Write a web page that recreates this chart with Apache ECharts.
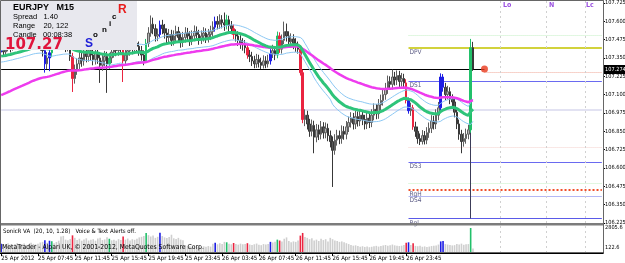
<!DOCTYPE html>
<html>
<head>
<meta charset="utf-8">
<script src="https://cdn.jsdelivr.net/npm/echarts@6/dist/echarts.min.js"></script>
<style>
html, body { margin: 0; padding: 0; background: #fff; }
#main { width: 625px; height: 263px; }
</style>
</head>
<body>
<div id="main"></div>
<script>
// EURJPY M15, 25 Apr 2012 03:45 .. 27 Apr 2012 07:00 (206 bars)
var firstOpen = 107.390;
var closes = [
107.405,107.392,107.418,107.436,107.421,107.447,107.462,107.441,107.458,107.474,
107.486,107.468,107.492,107.509,107.488,107.472,107.455,107.440,107.400,107.310,
107.350,107.385,107.440,107.460,107.470,107.450,107.490,107.460,107.430,107.450,
107.360,107.210,107.270,107.310,107.350,107.330,107.380,107.360,107.400,107.370,
107.340,107.380,107.350,107.300,107.330,107.360,107.310,107.350,107.390,107.420,
107.400,107.440,107.410,107.330,107.370,107.400,107.430,107.410,107.450,107.430,
107.400,107.370,107.330,107.450,107.520,107.580,107.550,107.500,107.510,107.575,
107.550,107.520,107.490,107.510,107.470,107.500,107.530,107.490,107.460,107.490,
107.520,107.500,107.470,107.500,107.530,107.510,107.480,107.500,107.520,107.490,
107.510,107.530,107.560,107.600,107.580,107.610,107.590,107.575,107.610,107.570,
107.550,107.510,107.500,107.470,107.450,107.440,107.420,107.370,107.360,107.330,
107.310,107.340,107.320,107.300,107.330,107.310,107.330,107.380,107.400,107.370,
107.500,107.410,107.470,107.530,107.500,107.460,107.480,107.450,107.430,107.410,
107.250,106.930,106.960,106.900,106.850,106.890,106.810,106.860,106.830,106.880,
106.840,106.870,106.820,106.780,106.720,106.790,106.820,106.800,106.850,106.830,
106.880,106.910,106.940,106.900,106.950,106.920,106.960,106.930,106.900,106.940,
106.910,106.960,107.000,106.970,107.030,107.060,107.100,107.140,107.190,107.170,
107.220,107.200,107.230,107.190,107.210,107.180,107.060,106.990,107.010,106.880,
106.850,106.800,106.780,106.820,106.790,106.840,106.870,106.920,106.900,106.960,
107.010,107.220,107.150,107.100,107.120,107.070,107.050,106.980,106.900,106.830,
106.780,106.800,106.830,106.860,107.420,107.274
];
var highs = [
107.440,107.438,107.450,107.475,107.468,107.482,107.505,107.490,107.498,107.515,
107.528,107.520,107.535,107.552,107.545,107.520,107.505,107.490,107.475,107.430,
107.390,107.420,107.475,107.500,107.515,107.505,107.530,107.525,107.495,107.488,
107.480,107.385,107.305,107.350,107.392,107.385,107.420,107.415,107.440,107.435,
107.405,107.420,107.412,107.385,107.370,107.398,107.392,107.385,107.428,107.460,
107.455,107.478,107.472,107.438,107.408,107.440,107.470,107.462,107.490,107.485,
107.462,107.432,107.402,107.480,107.560,107.640,107.625,107.580,107.550,107.605,
107.610,107.582,107.552,107.548,107.542,107.538,107.570,107.562,107.522,107.528,
107.560,107.555,107.532,107.538,107.572,107.565,107.542,107.538,107.560,107.552,
107.548,107.570,107.600,107.632,107.635,107.648,107.642,107.660,107.645,107.638,
107.602,107.578,107.545,107.532,107.505,107.485,107.472,107.445,107.405,107.392,
107.365,107.378,107.372,107.352,107.368,107.362,107.372,107.410,107.440,107.432,
107.530,107.525,107.510,107.598,107.585,107.532,107.518,107.512,107.485,107.462,
107.435,107.270,107.000,106.990,106.935,106.930,106.922,106.900,106.895,106.920,
106.912,106.910,106.902,106.855,106.815,106.830,106.860,106.855,106.890,106.885,
106.920,106.950,106.980,106.975,106.990,106.985,107.000,106.995,106.962,106.978,
106.972,107.000,107.040,107.035,107.070,107.100,107.140,107.180,107.230,107.225,
107.270,107.255,107.265,107.262,107.248,107.242,107.205,107.080,107.045,107.030,
106.915,106.882,106.835,106.858,106.852,106.878,106.910,106.960,106.955,107.000,
107.050,107.245,107.240,107.180,107.160,107.150,107.102,107.078,107.010,106.930,
106.860,106.838,106.868,106.895,107.480,107.460
];
var lows = [
107.355,107.360,107.370,107.395,107.388,107.400,107.420,107.405,107.412,107.428,
107.440,107.430,107.438,107.460,107.450,107.432,107.415,107.400,107.360,107.250,
107.275,107.260,107.355,107.405,107.425,107.410,107.415,107.420,107.390,107.395,
107.330,107.118,107.175,107.235,107.275,107.290,107.298,107.320,107.325,107.330,
107.300,107.305,107.310,107.180,107.262,107.295,107.112,107.275,107.315,107.352,
107.362,107.365,107.372,107.186,107.295,107.335,107.365,107.375,107.378,107.395,
107.365,107.332,107.300,107.318,107.425,107.495,107.512,107.462,107.465,107.490,
107.512,107.482,107.450,107.455,107.432,107.435,107.465,107.452,107.420,107.425,
107.455,107.465,107.432,107.438,107.465,107.475,107.440,107.445,107.462,107.452,
107.455,107.472,107.495,107.530,107.545,107.548,107.552,107.535,107.545,107.530,
107.512,107.478,107.462,107.432,107.412,107.400,107.382,107.345,107.322,107.295,
107.280,107.282,107.285,107.275,107.278,107.280,107.285,107.305,107.350,107.335,
107.348,107.385,107.380,107.445,107.462,107.420,107.428,107.410,107.392,107.380,
107.230,106.905,106.885,106.862,106.812,106.815,106.700,106.775,106.790,106.795,
106.800,106.802,106.782,106.740,106.470,106.690,106.752,106.762,106.765,106.792,
106.795,106.845,106.875,106.862,106.865,106.882,106.885,106.892,106.862,106.865,
106.872,106.878,106.925,106.932,106.935,106.995,107.025,107.065,107.105,107.135,
107.135,107.162,107.165,107.152,107.155,107.145,107.040,106.970,106.955,106.860,
106.812,106.765,106.756,106.760,106.760,106.762,106.805,106.838,106.862,106.865,
106.925,106.990,107.120,107.062,107.068,107.035,107.012,106.945,106.865,106.792,
106.700,106.745,106.765,106.795,106.840,107.262
];
var volumes = [
1050,980,900,1100,950,870,1000,1120,940,1010,
1080,920,990,1150,1020,960,1040,1180,1250,1420,
1150,1380,1320,1100,1240,1380,1850,1920,1500,1420,
1560,1980,1700,1450,1600,1380,1520,1650,1400,1480,
1550,1380,1620,1700,1450,1520,1780,1600,1420,1500,
1380,1560,1450,1850,1500,1620,1400,1550,1480,1600,
1750,1820,1900,2250,2000,1850,1950,1700,1820,2280,
1900,1750,1680,1800,2050,1650,1580,1700,1500,1420,
900,820,760,700,820,650,720,680,750,700,
780,720,1050,1150,980,1100,1000,1250,1200,1050,
980,1120,1000,940,1050,980,1020,1100,950,900,
980,1060,920,880,1000,950,1020,1250,1180,1250,
1500,1400,1300,1600,1750,1350,1200,1300,1250,1400,
1950,2250,1800,1700,1550,1650,1400,1500,1350,1600,
1450,1550,1300,1700,1550,1400,1350,1250,1300,1200,
1100,1000,900,820,860,780,700,760,680,720,
650,700,760,800,720,780,850,900,820,880,
950,860,800,780,820,900,1150,1200,900,1100,
800,760,820,700,740,680,720,780,800,850,
950,1300,1350,1000,950,900,850,880,1000,950,
1050,920,980,1000,2805.6,500
];
// SonicR VA bar classes
var blueBars = [0, 19, 21, 69, 93, 117, 177, 191, 192];
var greenBars = [22, 47, 63, 98, 120, 204];
var redBars = [31, 53, 101, 107, 121, 130, 131, 176, 179];

var emaStart = { close34: 107.36, high34: 107.40, low34: 107.32, close89: 107.09 };

var tickLabels = ['25 Apr 2012','25 Apr 07:45','25 Apr 11:45','25 Apr 15:45','25 Apr 19:45','25 Apr 23:45',
  '26 Apr 03:45','26 Apr 07:45','26 Apr 11:45','26 Apr 15:45','26 Apr 19:45','26 Apr 23:45','27 Apr 03:45'];
var barsPerLabel = 16;
var slotCount = 262;

var priceTicks = [107.725,107.600,107.475,107.350,107.225,107.100,106.975,106.850,106.725,106.600,106.475,106.350,106.225];
var lastPrice = 107.274;
var askPrice = 107.254;
var levelNames = ['DPV','DS1','DS3','RgH','DS4','Rgl'];
var levelValues = [107.420, 107.193, 106.640, 106.449, 106.408, 106.255];
var levelColors = ['#d2d23c','#6a6af0','#6a6af0','#f0502a','#b4b8f4','#5a5ae8'];
var faintLevels = [107.502, 106.743, 106.497];
var faintColors = ['#c4f0c4','#f4d0cc','#c4f0c4'];
var roundLevel = 107.000;
var zoneSlots = [217, 237, 254];
var zoneNames = ['Lo','N','Lc'];
var levelStart = 177;
var spikeBar = 204;
var volTop = 2805.6, volBottom = 122.6;

function ema(src, period, start) {
  var k = 2 / (period + 1), v = start, out = [];
  for (var i = 0; i < src.length; i++) { v = v + k * (src[i] - v); out.push(+v.toFixed(4)); }
  return out;
}

var cats = [];
for (var i = 0; i < slotCount; i++) cats.push(String(i));

var colorOf = function (i) {
  if (blueBars.indexOf(i) >= 0) return '#1c1ce4';
  if (greenBars.indexOf(i) >= 0) return '#22c06a';
  if (redBars.indexOf(i) >= 0) return '#ea2440';
  return null;
};

var candleData = [], volData = [];
for (var i = 0; i < closes.length; i++) {
  var o = i === 0 ? firstOpen : closes[i - 1];
  var c = colorOf(i);
  var item = { value: [o, closes[i], lows[i], highs[i]] };
  if (c) item.itemStyle = { color: c, color0: c, borderColor: c, borderColor0: c };
  candleData.push(item);
  volData.push({ value: volumes[i], itemStyle: { color: c || '#cfcfcf' } });
}

var ema34 = ema(closes, 34, emaStart.close34);
var emaHi = ema(highs, 34, emaStart.high34);
var emaLo = ema(lows, 34, emaStart.low34);
var ema89 = ema(closes, 89, emaStart.close89);

var font = '"Liberation Sans Narrow","DejaVu Sans Condensed","Liberation Sans",sans-serif';
var showLabel = function (idx) { return idx % barsPerLabel === 0 && idx / barsPerLabel < tickLabels.length; };

var levelLines = [];
levelValues.forEach(function (v, k) {
  levelLines.push([
    { coord: [levelStart, v], lineStyle: { color: levelColors[k], width: k === 0 ? 2 : (k === 3 ? 2 : 1), type: k === 3 ? 'dotted' : 'solid' },
      label: { show: true, formatter: levelNames[k], position: 'insideStartBottom', color: '#606088', fontSize: 6.5, fontFamily: font, distance: [1, 1] } },
    { coord: [slotCount - 1, v] }
  ]);
});
faintLevels.forEach(function (v, k) {
  levelLines.push([{ coord: [levelStart, v], lineStyle: { color: faintColors[k], width: 1, type: 'dotted' }, label: { show: false } }, { coord: [slotCount - 1, v] }]);
});
levelLines.push([{ coord: [0, roundLevel], lineStyle: { color: '#e2e2f2', width: 2, type: 'solid' }, label: { show: false } }, { coord: [slotCount - 1, roundLevel] }]);
levelLines.push([{ coord: [0, lastPrice], lineStyle: { color: '#000', width: 1, type: 'solid' }, label: { show: false } }, { coord: [210, lastPrice] }]);
levelLines.push([{ coord: [210, askPrice], lineStyle: { color: '#f0a898', width: 1, type: 'dotted' }, label: { show: false } }, { coord: [slotCount - 1, askPrice] }]);
levelLines.push([{ coord: [spikeBar, levelValues[0]], lineStyle: { color: '#3c3c58', width: 1, type: 'solid' }, label: { show: false } }, { coord: [spikeBar, levelValues[5]] }]);
zoneSlots.forEach(function (s) {
  levelLines.push([{ coord: [s, 107.7386], lineStyle: { color: '#d0d0d0', width: 1, type: [2, 3] }, label: { show: false } }, { coord: [s, 106.2175] }]);
});

var chart = echarts.init(document.getElementById('main'), null, { renderer: 'canvas' });
chart.setOption({
  animation: false,
  backgroundColor: '#fff',
  grid: [
    { left: 0, right: 22, top: 1, height: 223, outerBoundsMode: 'none', containLabel: false },
    { left: 0, right: 22, top: 226, height: 27, outerBoundsMode: 'none', containLabel: false }
  ],
  xAxis: [
    { gridIndex: 0, type: 'category', data: cats, boundaryGap: true, axisLine: { show: false }, axisTick: { show: false }, axisLabel: { show: false }, splitLine: { show: false } },
    { gridIndex: 1, type: 'category', data: cats, boundaryGap: true,
      axisLine: { lineStyle: { color: '#000', width: 1 } },
      axisTick: { show: true, length: 3, alignWithLabel: true, lineStyle: { color: '#000' }, interval: showLabel },
      axisLabel: { interval: showLabel, showMinLabel: true, showMaxLabel: false,
        formatter: function (v, idx) { return tickLabels[idx / barsPerLabel] || ''; },
        align: 'left', margin: 2, fontSize: 6, color: '#000', fontFamily: font, hideOverlap: false },
      splitLine: { show: false } }
  ],
  yAxis: [
    { gridIndex: 0, type: 'value', position: 'right', min: 106.2175, max: 107.7386, scale: true,
      axisLine: { show: true, lineStyle: { color: '#000' } },
      axisTick: { show: true, length: 2, customValues: priceTicks, lineStyle: { color: '#000' } },
      axisLabel: { customValues: priceTicks, formatter: function (v) { return v.toFixed(3); }, fontSize: 5.6, color: '#000', margin: 2, fontFamily: font, hideOverlap: false },
      splitLine: { show: false } },
    { gridIndex: 1, type: 'value', position: 'right', min: 0, max: 3030,
      axisLine: { show: true, lineStyle: { color: '#000' } }, axisTick: { show: false }, axisLabel: { show: false }, splitLine: { show: false } }
  ],
  series: [
    { type: 'candlestick', xAxisIndex: 0, yAxisIndex: 0, data: candleData, barWidth: 2, z: 3,
      itemStyle: { color: '#b4b4b4', color0: '#585858', borderColor: '#606060', borderColor0: '#383838', borderWidth: 1 },
      markLine: { symbol: 'none', silent: true, animation: false, z: 1, data: levelLines } },
    { type: 'line', xAxisIndex: 0, yAxisIndex: 0, data: emaHi, showSymbol: false, lineStyle: { color: '#8cc8f4', width: 1 }, z: 4 },
    { type: 'line', xAxisIndex: 0, yAxisIndex: 0, data: emaLo, showSymbol: false, lineStyle: { color: '#8cc8f4', width: 1 }, z: 4 },
    { type: 'line', xAxisIndex: 0, yAxisIndex: 0, data: ema89, showSymbol: false, lineStyle: { color: '#ee3cee', width: 2.5 }, z: 5 },
    { type: 'line', xAxisIndex: 0, yAxisIndex: 0, data: ema34, showSymbol: false, lineStyle: { color: '#2ec47a', width: 3 }, z: 6 },
    { type: 'scatter', xAxisIndex: 0, yAxisIndex: 0, data: [[210, lastPrice]], symbolSize: 7, itemStyle: { color: '#e8381c' }, z: 7 },
    { type: 'bar', xAxisIndex: 1, yAxisIndex: 1, data: volData, barWidth: 1.6,
      markLine: { symbol: 'none', silent: true, animation: false, label: { show: false },
        lineStyle: { color: '#d0d0d0', width: 1, type: [2, 3] }, data: zoneSlots.map(function (s) { return { xAxis: s }; }) } }
  ],
  graphic: [
    { type: 'rect', shape: { x: 0, y: 223, width: 603, height: 2.5 }, style: { fill: '#7c7c7c' }, z: 50 },
    { type: 'rect', shape: { x: 0.5, y: 0.5, width: 603, height: 252 }, style: { fill: 'none', stroke: '#666', lineWidth: 1 }, z: 50 },
    { type: 'rect', shape: { x: 604, y: 65, width: 21, height: 9 }, style: { fill: '#000' }, z: 60 },
    { type: 'text', x: 605, y: 66.5, style: { text: lastPrice.toFixed(3), fill: '#fff', font: '5.6px ' + font }, z: 61 },
    { type: 'text', x: 605, y: 225, style: { text: String(volTop), fill: '#000', font: '5.6px ' + font }, z: 61 },
    { type: 'text', x: 605, y: 245, style: { text: String(volBottom), fill: '#000', font: '5.6px ' + font }, z: 61 },
    { type: 'text', x: 3, y: 228, style: { text: 'SonicR VA  (20, 10, 1.28)   Voice & Text Alerts off.', fill: '#000', font: '6px ' + font }, z: 61 },
    { type: 'text', x: 2, y: 244, style: { text: 'MetaTrader - Alpari UK, © 2001-2012, MetaQuotes Software Corp.', fill: '#000', font: '6.8px ' + font }, z: 61 },
    { type: 'text', x: 503, y: 2, style: { text: zoneNames[0], fill: '#9a50e0', font: 'bold 7px ' + font }, z: 61 },
    { type: 'text', x: 549, y: 2, style: { text: zoneNames[1], fill: '#9a50e0', font: 'bold 7px ' + font }, z: 61 },
    { type: 'text', x: 586, y: 2, style: { text: zoneNames[2], fill: '#9a50e0', font: 'bold 7px ' + font }, z: 61 },
    // info panel
    { type: 'rect', shape: { x: 1, y: 1, width: 136, height: 49 }, style: { fill: '#e8e8ee' }, z: 70 },
    { type: 'text', x: 13, y: 3, style: { text: 'EURJPY   M15', fill: '#000', font: 'bold 9px "Liberation Sans",sans-serif' }, z: 71 },
    { type: 'text', x: 13, y: 13, style: { text: 'Spread   1.40', fill: '#000', font: '7.5px "Liberation Sans",sans-serif' }, z: 71 },
    { type: 'text', x: 13, y: 22, style: { text: 'Range    20, 122', fill: '#000', font: '7.5px "Liberation Sans",sans-serif' }, z: 71 },
    { type: 'text', x: 13, y: 31, style: { text: 'Candle   00:08:38', fill: '#000', font: '7.5px "Liberation Sans",sans-serif' }, z: 71 },
    { type: 'text', x: 5, y: 38, style: { text: '107.27', fill: '#e0143c', font: 'bold 15px "DejaVu Sans",sans-serif' }, z: 71 },
    { type: 'text', x: 85, y: 38, style: { text: 'S', fill: '#2020d8', font: 'bold 12px "Liberation Sans",sans-serif' }, z: 71 },
    { type: 'text', x: 93, y: 31, style: { text: 'o', fill: '#000', font: 'bold 8px "Liberation Sans",sans-serif' }, z: 71 },
    { type: 'text', x: 102, y: 26, style: { text: 'n', fill: '#000', font: 'bold 8px "Liberation Sans",sans-serif' }, z: 71 },
    { type: 'text', x: 109, y: 20, style: { text: 'i', fill: '#000', font: 'bold 8px "Liberation Sans",sans-serif' }, z: 71 },
    { type: 'text', x: 112, y: 13, style: { text: 'c', fill: '#000', font: 'bold 8px "Liberation Sans",sans-serif' }, z: 71 },
    { type: 'text', x: 118, y: 4, style: { text: 'R', fill: '#e81c1c', font: 'bold 12px "Liberation Sans",sans-serif' }, z: 71 }
  ]
});
</script>
</body>
</html>
